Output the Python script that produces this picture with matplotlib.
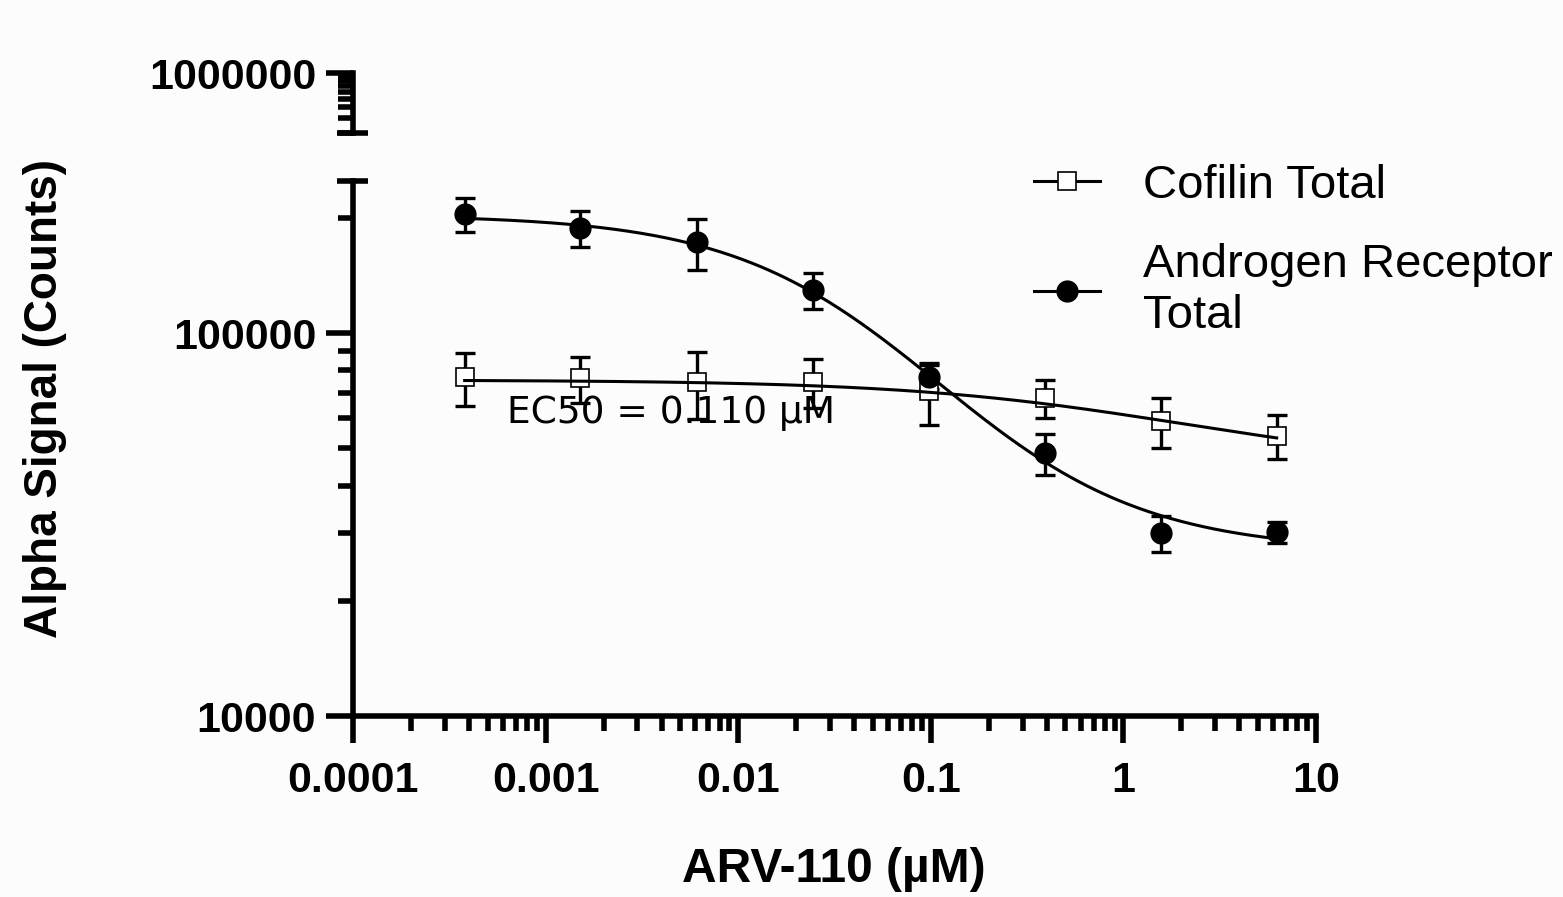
import matplotlib
matplotlib.use('Agg')
import matplotlib.pyplot as plt
import numpy as np
from matplotlib.lines import Line2D
from matplotlib.ticker import FuncFormatter, LogLocator, NullFormatter

# concentrations (uM), 4-fold dilution series
conc = [0.00038, 0.0015, 0.0061, 0.0244, 0.0977, 0.39, 1.56, 6.25]

# Androgen Receptor Total (filled circles)
ar_mean = [205000, 188600, 172800, 129700, 77000, 48600, 30100, 30300]
ar_sd = [21000, 20400, 26400, 14000, 5500, 6000, 3200, 1900]

# Cofilin Total (open squares)
cof_mean = [76700, 76200, 74500, 74700, 70500, 67800, 59000, 54000]
cof_sd = [12000, 10300, 14700, 10800, 12900, 7900, 8800, 7000]

# fitted curves (log signal vs log conc): top, bottom, ec50, hill
ar_fit = (204000, 26900, 0.110, 0.8)
cof_fit = (75500, 44700, 2.0, 0.6)

x_ticks = [0.0001, 0.001, 0.01, 0.1, 1, 10]
ec50_label = 'EC50 = 0.110 µM'

BG = '#fcfcfc'
LW = 4.0


def fitCurve(params, x):
    top, bottom, ec50, hill = params
    lt, lb = np.log10(top), np.log10(bottom)
    return 10 ** (lb + (lt - lb) / (1 + (x / ec50) ** hill))


def styleAxis(ax):
    for s in ['top', 'right']:
        ax.spines[s].set_visible(False)
    for s in ['left', 'bottom']:
        ax.spines[s].set_linewidth(LW)
        ax.spines[s].set_capstyle('projecting')
    ax.tick_params(which='major', length=19.5, width=LW, color='k')
    ax.tick_params(which='minor', length=11, width=LW, color='k')
    ax.tick_params(labelsize=31)
    for lab in ax.get_xticklabels() + ax.get_yticklabels():
        lab.set_fontweight('bold')


def breakBar(ax, y):
    w = ax.get_position().width * 1563
    ax.plot([-16 / w, 15 / w], [y, y], transform=ax.transAxes, clip_on=False,
            color='k', lw=LW, solid_capstyle='butt')


def main():
    plt.rcParams['font.family'] = ['Liberation Sans', 'DejaVu Sans']
    fig = plt.figure(figsize=(15.63, 8.97), dpi=100, facecolor=BG)

    ax = fig.add_axes([353 / 1563, 1 - 716 / 897, 963 / 1563, 535 / 897])
    axt = fig.add_axes([353 / 1563, 1 - 133 / 897, 963 / 1563, 60 / 897])
    ax.set_facecolor(BG)
    axt.set_facecolor('none')

    xs = np.logspace(np.log10(conc[0]), np.log10(conc[-1]), 300)

    ax.errorbar(conc, cof_mean, yerr=cof_sd, fmt='none', ecolor='k',
                elinewidth=2.4, capsize=7.5, capthick=2.4, zorder=2)
    ax.errorbar(conc, ar_mean, yerr=ar_sd, fmt='none', ecolor='k',
                elinewidth=2.4, capsize=7.5, capthick=2.4, zorder=2)
    ax.plot(conc, cof_mean, ls='none', marker='s', ms=13.5, mfc='white',
            mec='k', mew=1.2, zorder=3)
    ax.plot(conc, ar_mean, ls='none', marker='o', ms=15, mfc='k',
            mec='k', zorder=4)
    ax.plot(xs, fitCurve(cof_fit, xs), color='k', lw=2.2, zorder=5)
    ax.plot(xs, fitCurve(ar_fit, xs), color='k', lw=2.2, zorder=5)

    ax.text(0.00063, 62000, ec50_label, fontsize=27, family='DejaVu Sans',
            va='center', ha='left', zorder=6)

    ax.set_xscale('log')
    ax.set_yscale('log')
    ax.set_xlim(0.0001, 10)
    ax.set_ylim(10000, 250000)
    ax.set_xticks(x_ticks)
    ax.xaxis.set_minor_locator(LogLocator(base=10, subs=np.arange(2, 10)))
    ax.xaxis.set_minor_formatter(NullFormatter())
    ax.xaxis.set_major_formatter(FuncFormatter(lambda v, p: '{:g}'.format(v)))
    ax.set_yticks([10000, 100000])
    ax.yaxis.set_minor_locator(LogLocator(base=10, subs=np.arange(2, 10)))
    ax.yaxis.set_minor_formatter(NullFormatter())
    ax.yaxis.set_major_formatter(FuncFormatter(lambda v, p: '{:.0f}'.format(v)))
    ax.tick_params(axis='x', which='major', pad=13)
    ax.tick_params(axis='y', which='major', pad=7)
    styleAxis(ax)
    breakBar(ax, 1)

    axt.set_yscale('log')
    axt.set_ylim(200000, 1000000)
    axt.set_xlim(0.0001, 10)
    axt.set_xscale('log')
    axt.set_yticks([1000000])
    axt.yaxis.set_minor_locator(LogLocator(base=10, subs=np.arange(2, 10)))
    axt.yaxis.set_minor_formatter(NullFormatter())
    axt.yaxis.set_major_formatter(FuncFormatter(lambda v, p: '{:.0f}'.format(v)))
    axt.tick_params(axis='y', which='major', pad=7)
    axt.spines['bottom'].set_visible(False)
    axt.xaxis.set_visible(False)
    styleAxis(axt)
    breakBar(axt, 0)

    handles = [
        Line2D([], [], color='k', lw=2.2, marker='s', ms=13.5, mfc='white',
               mec='k', mew=1.2),
        Line2D([], [], color='k', lw=2.2, marker='o', ms=15, mfc='k'),
    ]
    fig.legend(handles, ['Cofilin Total', 'Androgen Receptor\nTotal'],
               loc='upper left', bbox_to_anchor=(1034 / 1563, 1 - 164 / 897),
               frameon=False, fontsize=34, handlelength=1.4, handletextpad=0.9,
               labelspacing=0.75, borderpad=0, borderaxespad=0)

    fig.text(834 / 1563, 1 - 869 / 897, 'ARV-110 (µM)', fontsize=34.5,
             fontweight='bold', ha='center', va='center')
    fig.text(45 / 1563, 1 - 398 / 897, 'Alpha Signal (Counts)', fontsize=33,
             fontweight='bold', ha='center', va='center', rotation=90)

    fig.savefig('out.png', dpi=100, facecolor=BG)


if __name__ == '__main__':
    main()
